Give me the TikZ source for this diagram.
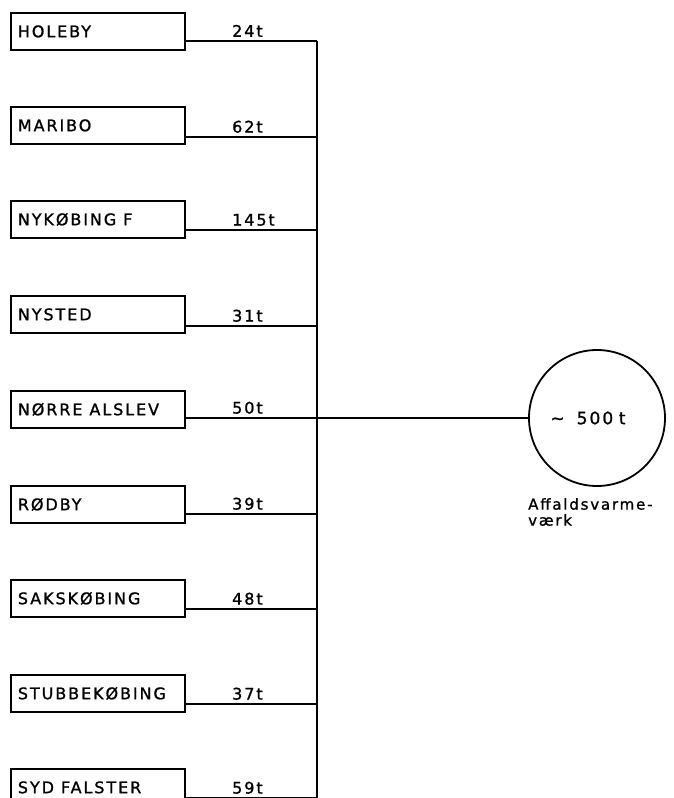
\documentclass[tikz,border=0pt]{standalone}
\usepackage{fontspec}
\setmainfont{DejaVu Sans}
\newfontfamily\boxfont[LetterSpace=12,FakeBold=1.2]{DejaVu Sans}
\newcommand{\gap}{\hspace*{7pt}}
\usetikzlibrary{calc}
\tikzset{
  townbox/.style={draw, line width=1.8pt, rectangle, anchor=north west,
    text width=160pt, inner xsep=7pt, inner ysep=0pt, minimum height=37pt,
    align=left, font=\boxfont\fontsize{16}{17}\selectfont},
  feed/.style={line width=1.8pt},
  qty/.style={anchor=south west, inner sep=0pt, font=\boxfont\fontsize{16}{17}\selectfont},
  plant/.style={draw, circle, line width=1.8pt, minimum size=136pt, inner sep=0pt,
    font=\boxfont\fontsize{17}{18}\selectfont},
  captext/.style={anchor=north west, inner sep=0pt, align=left,
    font=\boxfont\fontsize{15}{16}\selectfont}
}
\begin{document}
\begin{tikzpicture}[x=1pt,y=1pt]
\useasboundingbox (0,0) rectangle (674,-798);
\clip (0,0) rectangle (674,-798);
% boxes
\node[townbox] (b1) at (10,-12) {HOLEBY};
\node[townbox] (b2) at (10,-106) {MARIBO};
\node[townbox] (b3) at (10,-200) {NYKØBING\gap F};
\node[townbox] (b4) at (10,-295) {NYSTED};
\node[townbox] (b5) at (10,-390) {NØRRE\gap ALSLEV};
\node[townbox] (b6) at (10,-485) {RØDBY};
\node[townbox] (b7) at (10,-579) {SAKSKØBING};
\node[townbox] (b8) at (10,-674) {STUBBEKØBING};
\node[townbox] (b9) at (10,-768) {SYD\gap FALSTER};
% junctions on the bus
\coordinate (j1) at (317,-41);
\coordinate (j2) at (317,-137);
\coordinate (j3) at (317,-230);
\coordinate (j4) at (317,-326);
\coordinate (j5) at (317,-418);
\coordinate (j6) at (317,-514);
\coordinate (j7) at (317,-609);
\coordinate (j8) at (317,-704);
\coordinate (j9) at (317,-798);
\coordinate (busend) at (317,-805);
% feeders
\foreach \i/\q in {1/24t,2/62t,3/145t,4/31t,5/50t,6/39t,7/48t,8/37t,9/59t}{
  \draw[feed] (b\i.east |- j\i) -- (j\i);
  \node[qty] (q\i) at ($(232,0 |- j\i)+(0,4)$) {\q};
}
\draw[feed] (j1) -- (busend);
% plant
\node[plant] (plant) at (597,-418) {\textasciitilde\hspace*{12pt}500\,\,t\hspace*{18pt}};
\draw[feed] (j5) -- (j5 -| plant.west);
\node[captext] (cap) at (528,-498) {Affaldsvarme-\\værk};
\end{tikzpicture}
\end{document}
